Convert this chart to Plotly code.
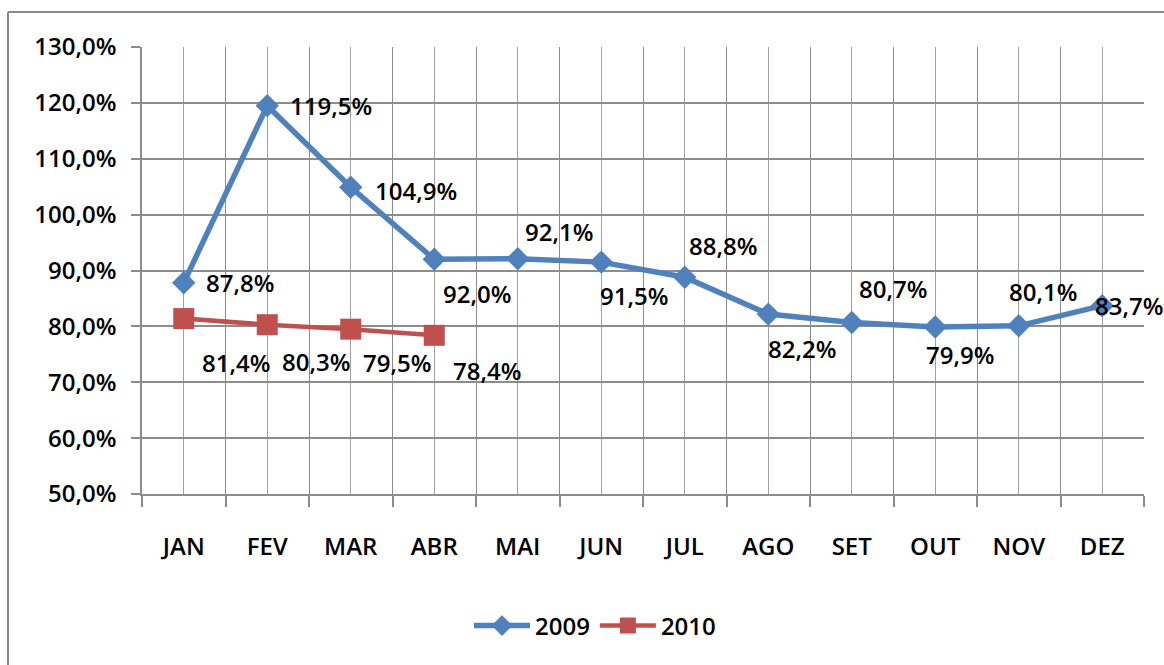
import plotly.graph_objects as go

months = ["JAN", "FEV", "MAR", "ABR", "MAI", "JUN", "JUL", "AGO", "SET", "OUT", "NOV", "DEZ"]
values_2009 = [87.8, 119.5, 104.9, 92.0, 92.1, 91.5, 88.8, 82.2, 80.7, 79.9, 80.1, 83.7]
values_2010 = [81.4, 80.3, 79.5, 78.4]

# label offsets in pixels (right, up)
shift_2009 = [(56, 0), (64, 0), (65, -3), (43, -34), (41, 27), (33, -33),
              (38, 32), (34, -34), (41, 34), (25, -28), (24, 34), (27, 0)]
shift_2010 = [(52, -44), (49, -37), (46, -33), (53, -35)]

W, H = 1164, 665
L, R, T, B = 142, 1144, 47, 494
FONT = "Open Sans"
FS = 24
GRID = "#8c8c8c"

x09 = list(range(len(values_2009)))
x10 = list(range(len(values_2010)))
y09 = [v / 100 for v in values_2009]
y10 = [v / 100 for v in values_2010]

fig = go.Figure()
fig.add_trace(go.Scatter(
    x=x09, y=y09, name="2009", mode="lines+markers",
    line=dict(color="#4F81BD", width=5.5),
    marker=dict(symbol="diamond", size=18, color="#4F81BD"),
))
fig.add_trace(go.Scatter(
    x=x10, y=y10, name="2010", mode="lines+markers",
    line=dict(color="#C0504D", width=4.5),
    marker=dict(symbol="square", size=21, color="#C0504D"),
))

def fmt(v):
    return f"{v:.1f}".replace(".", ",") + "%"

tf = dict(family=FONT, size=FS, color="black", weight=600)

annotations = []
for xi, v, (dx, dy) in zip(x09, values_2009, shift_2009):
    annotations.append(dict(x=xi, y=v / 100, text=fmt(v), showarrow=False,
                            xshift=dx, yshift=dy, font=tf))
for xi, v, (dx, dy) in zip(x10, values_2010, shift_2010):
    annotations.append(dict(x=xi, y=v / 100, text=fmt(v), showarrow=False,
                            xshift=dx, yshift=dy, font=tf))

pw, ph = R - L, B - T
def px(x):
    return (x - L) / pw
def py(y):
    return (B - y) / ph

border = dict(color="#8a8a8a", width=2)
fig.update_layout(
    width=W, height=H,
    margin=dict(l=L, r=W - R, t=T, b=H - B),
    paper_bgcolor="white", plot_bgcolor="white",
    separators=",.",
    font=tf,
    showlegend=True,
    legend=dict(orientation="h", x=px(595), y=py(626), xanchor="center", yanchor="middle",
                font=tf, itemwidth=56, tracegroupgap=0, bgcolor="rgba(0,0,0,0)"),
    annotations=annotations,
    shapes=[
        dict(type="line", xref="paper", yref="paper",
             x0=px(8), x1=px(1164), y0=py(12), y1=py(12), line=border, layer="below"),
        dict(type="line", xref="paper", yref="paper",
             x0=px(8), x1=px(8), y0=py(12), y1=py(665), line=border, layer="below"),
    ],
    xaxis=dict(
        range=[-0.5, 11.5], tickmode="array", tickvals=x09, ticktext=months,
        showgrid=True, gridcolor="#a0a0a0", gridwidth=1,
        ticks="", showline=True, linecolor=GRID, linewidth=1.5,
        zeroline=False, fixedrange=True, ticklabelstandoff=30,
        minor=dict(tickmode="linear", tick0=-0.5, dtick=1, showgrid=True,
                   gridcolor=GRID, gridwidth=1, ticks="outside", ticklen=11,
                   tickcolor=GRID, tickwidth=1.5),
        tickfont=tf,
    ),
    yaxis=dict(
        range=[0.5, 1.3], tick0=0.5, dtick=0.1, tickformat=".1%",
        showgrid=True, gridcolor=GRID, gridwidth=1.5,
        ticks="outside", ticklen=9, tickcolor=GRID, tickwidth=1.5,
        showline=True, linecolor=GRID, linewidth=1.5, zeroline=False,
        fixedrange=True, ticklabelstandoff=10,
        tickfont=tf,
    ),
)

fig.write_html("out.html", config={"displayModeBar": False},
               post_script="document.body.style.margin='0px';document.body.style.overflow='hidden';")
